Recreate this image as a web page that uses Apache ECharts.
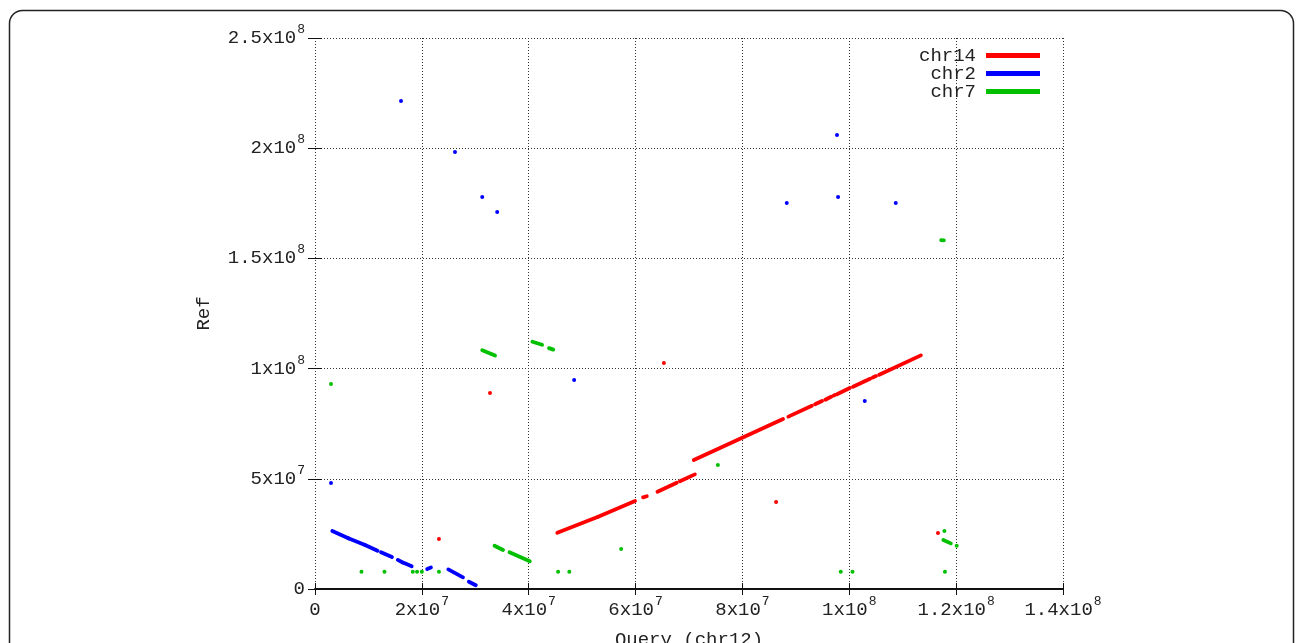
<!DOCTYPE html>
<html>
<head>
<meta charset="utf-8">
<script src="https://cdn.jsdelivr.net/npm/echarts@6/dist/echarts.min.js"></script>
<style>
html,body{margin:0;padding:0;background:#fff;}
#chart{width:1296px;height:643px;}
</style>
</head>
<body>
<div id="chart"></div>
<script>
// Series names
const seriesNames = ['chr14', 'chr2', 'chr7'];
const seriesColors = ['#ff0000', '#0000ff', '#00c000'];

// Axis ticks
const xTicks = [0, 2e7, 4e7, 6e7, 8e7, 1e8, 1.2e8, 1.4e8];
const yTicks = [0, 5e7, 1e8, 1.5e8, 2e8, 2.5e8];

// Match segments [xStart, yStart, xEnd, yEnd] (bp) and single-point matches [x, y]
const chr14Segments = [
  [45.35e6, 25.5e6, 53.0e6, 32.8e6],
  [53.0e6, 32.8e6, 59.9e6, 39.9e6],
  [61.4e6, 41.6e6, 62.1e6, 42.1e6],
  [64.1e6, 44.1e6, 67.7e6, 48.2e6],
  [68.3e6, 48.9e6, 71.1e6, 52.0e6],
  [70.9e6, 58.5e6, 87.6e6, 77.1e6],
  [88.6e6, 78.2e6, 93.0e6, 83.1e6],
  [93.6e6, 83.8e6, 94.9e6, 85.3e6],
  [95.5e6, 85.9e6, 96.6e6, 87.2e6],
  [97.1e6, 87.8e6, 97.3e6, 88.0e6],
  [97.7e6, 88.4e6, 100.1e6, 91.2e6],
  [100.7e6, 91.8e6, 103.9e6, 95.4e6],
  [104.4e6, 96.0e6, 105.0e6, 96.6e6],
  [105.6e6, 97.2e6, 113.4e6, 106.0e6]
];
const chr14Points = [
  [23.2e6, 22.7e6], [32.75e6, 88.9e6], [65.3e6, 102.5e6], [86.3e6, 39.5e6], [116.6e6, 25.4e6]
];

const chr2Segments = [
  [3.24e6, 26.3e6, 6.24e6, 23.0e6],
  [6.24e6, 23.0e6, 9.36e6, 20.0e6],
  [9.36e6, 20.0e6, 11.7e6, 17.4e6],
  [12.35e6, 16.65e6, 14.4e6, 14.5e6],
  [15.5e6, 13.2e6, 16.5e6, 11.9e6],
  [16.8e6, 11.7e6, 18.1e6, 10.3e6],
  [21.0e6, 9.1e6, 21.7e6, 9.8e6],
  [24.95e6, 8.9e6, 27.7e6, 5.3e6],
  [28.8e6, 3.3e6, 30.1e6, 1.7e6]
];
const chr2Points = [
  [16.1e6, 221.4e6], [26.2e6, 198.3e6], [31.3e6, 177.9e6], [34.1e6, 171.0e6],
  [48.5e6, 94.8e6], [88.3e6, 175.1e6], [97.9e6, 177.9e6], [97.7e6, 206.0e6],
  [108.7e6, 175.1e6], [102.9e6, 85.3e6], [3.0e6, 48.1e6]
];

const chr7Segments = [
  [31.3e6, 108.3e6, 33.7e6, 105.9e6],
  [40.7e6, 112.2e6, 42.5e6, 110.8e6],
  [43.8e6, 109.3e6, 44.6e6, 108.6e6],
  [33.6e6, 19.6e6, 35.2e6, 17.7e6],
  [36.4e6, 16.65e6, 40.2e6, 12.6e6],
  [117.2e6, 158.3e6, 117.7e6, 158.2e6],
  [117.6e6, 22.2e6, 119.0e6, 20.7e6]
];
const chr7Points = [
  [3.0e6, 93.0e6], [8.7e6, 7.85e6], [13.0e6, 7.85e6], [18.3e6, 7.85e6], [19.1e6, 7.85e6],
  [20.0e6, 7.85e6], [23.2e6, 7.85e6], [45.5e6, 7.85e6], [47.6e6, 7.85e6], [57.3e6, 18.1e6],
  [75.4e6, 56.3e6], [98.4e6, 7.85e6], [100.6e6, 7.85e6], [117.9e6, 7.85e6],
  [117.8e6, 26.3e6], [120.1e6, 19.6e6]
];

const FONT = '"Liberation Mono", "DejaVu Sans Mono", monospace';

function sciLabel(v) {
  if (v === 0) return '{b|0}';
  const e = Math.floor(Math.log10(v) + 1e-9);
  const m = Math.round(v / Math.pow(10, e) * 10) / 10;
  return '{b|' + m + 'x10}{sup|' + e + '}';
}
const richLabel = {
  b: { fontSize: 19, fontFamily: FONT, color: '#222', lineHeight: 30, verticalAlign: 'middle' },
  sup: { fontSize: 13, fontFamily: FONT, color: '#222', verticalAlign: 'top', lineHeight: 17, padding: [0, 0, 0, 1] }
};

const segData = [chr14Segments, chr2Segments, chr7Segments].map(
  segs => segs.map(s => ({ coords: [[s[0], s[1]], [s[2], s[3]]] }))
);
const ptData = [chr14Points, chr2Points, chr7Points];

const gridLine = { show: true, lineStyle: { color: '#333', width: 1, type: [1, 2] } };

const chart = echarts.init(document.getElementById('chart'), null, { renderer: 'canvas' });
const lineSeries = seriesNames.map((name, i) => ({
  name: name,
  type: 'lines',
  coordinateSystem: 'cartesian2d',
  xAxisIndex: 0, yAxisIndex: 0,
  lineStyle: { color: seriesColors[i], width: 3.8, opacity: 1, cap: 'round' },
  itemStyle: { color: seriesColors[i] },
  data: segData[i]
}));
const pointSeries = seriesNames.map((name, i) => ({
  name: name,
  type: 'scatter',
  xAxisIndex: 0, yAxisIndex: 0,
  symbol: 'circle',
  symbolSize: 4,
  itemStyle: { color: seriesColors[i], opacity: 1 },
  data: ptData[i]
}));

chart.setOption({
  animation: false,
  backgroundColor: '#fff',
  color: seriesColors,
  graphic: [{
    type: 'rect',
    shape: { x: 9.5, y: 10.5, width: 1284, height: 700, r: 13 },
    style: { fill: 'none', stroke: '#222', lineWidth: 1.5 },
    silent: true, z: -1
  }],
  grid: { left: 315, right: 233, top: 38, bottom: 54, containLabel: false, outerBoundsMode: 'none' },
  legend: {
    orient: 'vertical',
    right: 256,
    top: 46,
    padding: 0,
    align: 'right',
    icon: 'rect',
    itemWidth: 52,
    itemHeight: 3,
    itemGap: -1,
    data: seriesNames.map((n, i) => ({ name: n, icon: 'rect', itemStyle: { color: seriesColors[i] } })),
    textStyle: { fontFamily: FONT, fontSize: 19, color: '#222', lineHeight: 17, padding: [0, 6, 0, 0] }
  },
  xAxis: [{
    type: 'value', min: 0, max: 1.4e8, interval: 2e7,
    name: 'Query (chr12)', nameLocation: 'middle', nameGap: 41,
    nameTextStyle: { fontFamily: FONT, fontSize: 19, color: '#222' },
    axisLine: { show: true, onZero: false, lineStyle: { color: '#111', width: 2 } },
    axisTick: { show: true, inside: true, length: 6, lineStyle: { color: '#111', width: 1 } },
    axisLabel: { margin: 6, fontFamily: FONT, fontSize: 19, color: '#222', formatter: sciLabel, rich: richLabel },
    splitLine: gridLine
  }, {
    type: 'value', min: 0, max: 1.4e8, interval: 2e7, position: 'top',
    axisLine: { show: false },
    axisTick: { show: true, inside: true, length: 6, lineStyle: { color: '#111', width: 1 } },
    axisLabel: { show: false },
    splitLine: { show: false }
  }],
  yAxis: [{
    type: 'value', min: 0, max: 2.5e8, interval: 5e7,
    name: 'Ref', nameLocation: 'middle', nameGap: 102, nameRotate: 90,
    nameTextStyle: { fontFamily: FONT, fontSize: 19, color: '#222' },
    axisLine: { show: false },
    axisTick: { show: true, inside: true, length: 7, lineStyle: { color: '#111', width: 1 } },
    axisLabel: { margin: 10, fontFamily: FONT, fontSize: 19, color: '#222', formatter: sciLabel, rich: richLabel },
    splitLine: gridLine
  }, {
    type: 'value', min: 0, max: 2.5e8, interval: 5e7, position: 'right',
    axisLine: { show: false },
    axisTick: { show: true, inside: true, length: 7, lineStyle: { color: '#111', width: 1 } },
    axisLabel: { show: false },
    splitLine: { show: false }
  }],
  series: lineSeries.concat(pointSeries)
});
</script>
</body>
</html>
